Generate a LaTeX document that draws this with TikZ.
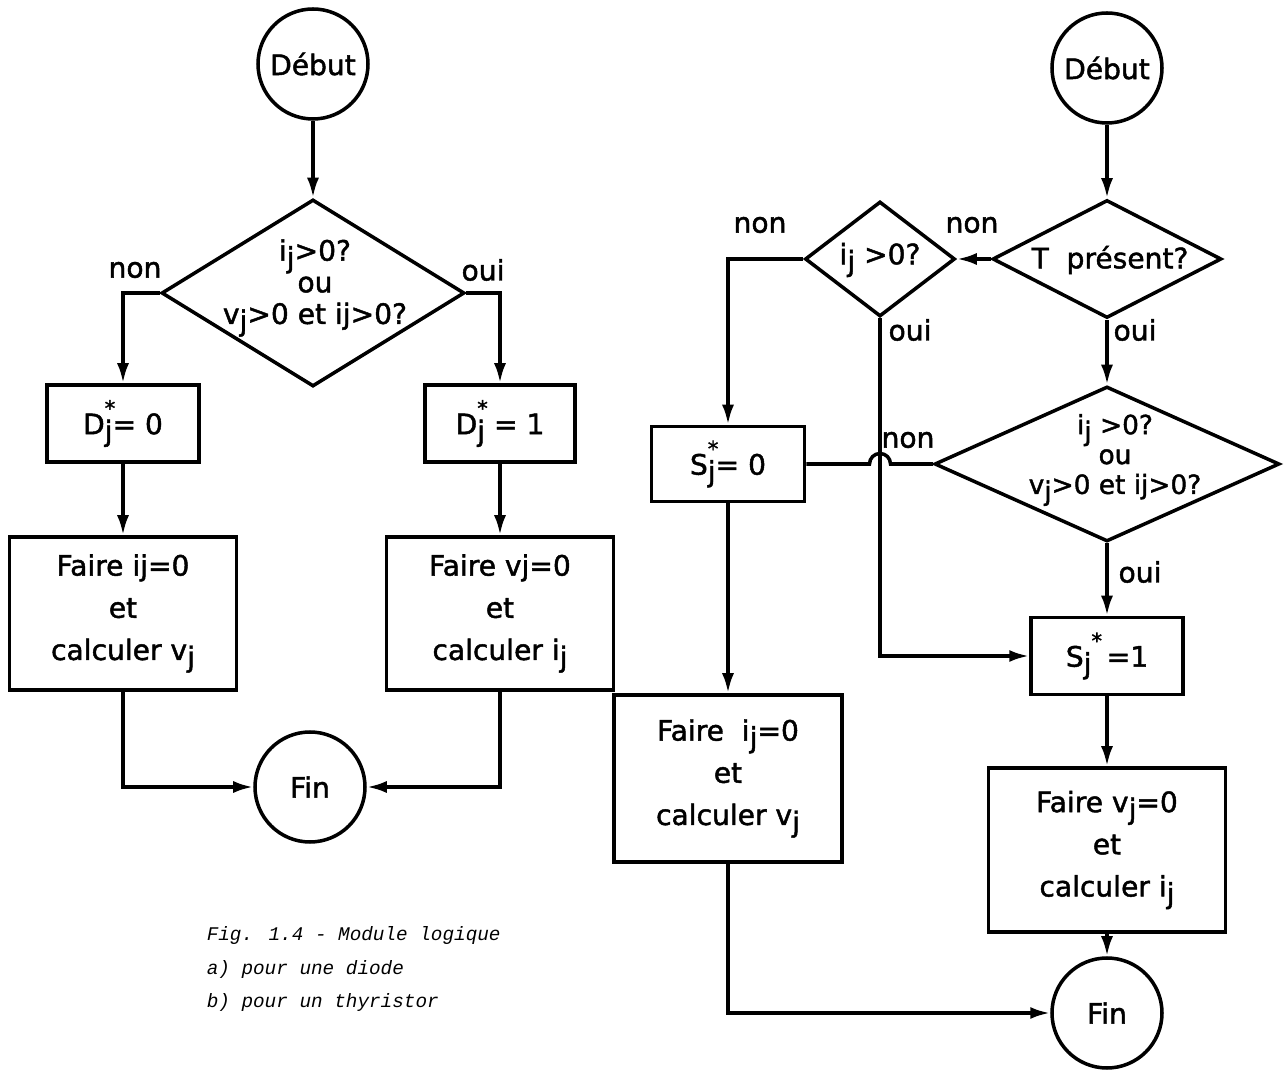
\documentclass[tikz,border=0pt]{standalone}
\usepackage{fontspec}
\setmainfont{DejaVu Sans}[BoldFont={DejaVu Sans}, BoldFeatures={FakeBold=1.6}]
\newfontfamily\legende{Liberation Mono}
\usetikzlibrary{shapes.geometric}
\usetikzlibrary{arrows.meta}
\usetikzlibrary{calc,positioning}

\newcommand{\dn}[1]{\raisebox{-0.45ex}{#1}}
\newcommand{\etoile}{\rlap{\raisebox{1.2ex}{\large *}}}

\begin{document}
\begin{tikzpicture}[line width=2pt,
    every node/.style={font=\bfseries\fontsize{16}{19}\selectfont},
    fl/.style={-{Latex[length=4mm,width=2.4mm]}},
    rond/.style={circle, draw, minimum size=2.2cm, inner sep=0pt},
    boite/.style={rectangle, draw, align=center, inner sep=0pt, font=\bfseries\fontsize{16}{24}\selectfont},
    losange/.style={diamond, draw, inner sep=0pt},
    question/.style={align=center, inner sep=0pt},
    reponse/.style={inner sep=1pt}]

    \useasboundingbox (0,0) rectangle (25.68,-21.4);

    % a) diode
    \node[rond] (debL) at (6.26,-1.28) {Début};
    \node[losange, minimum width=6.06cm, minimum height=3.74cm] (dL) at (6.26,-5.86) {};
    \node[question, font=\bfseries\fontsize{16}{18}\selectfont] (dLtxt) at (6.3,-5.76) {i\dn{j}>0?\\ ou\\ v\dn{j}>0 et ij>0?};
    \node[boite, minimum width=3.04cm, minimum height=1.54cm] (d0) at (2.46,-8.47) {D\etoile\dn{j}= 0};
    \node[boite, minimum width=3.0cm, minimum height=1.54cm] (d1) at (10.0,-8.47) {D\etoile\dn{j} = 1};
    \node[boite, minimum width=4.54cm, minimum height=3.06cm] (fL0) at (2.46,-12.27) {Faire ij=0\\ et\\ calculer v\dn{j}};
    \node[boite, minimum width=4.54cm, minimum height=3.06cm] (fL1) at (10.0,-12.27) {Faire vj=0\\ et\\ calculer i\dn{j}};
    \node[rond] (finL) at (6.2,-15.74) {Fin};

    \node[reponse] (nonL) at (2.7,-5.4) {non};
    \node[reponse] (ouiL) at (9.66,-5.4) {oui};

    \draw[fl] (debL) -- (dL);
    \draw[fl] (dL.west) -| (d0.north);
    \draw[fl] (dL.east) -| (d1.north);
    \draw[fl] (d0) -- (fL0);
    \draw[fl] (d1) -- (fL1);
    \draw[fl] (fL0.south) |- (finL.west);
    \draw[fl] (fL1.south) |- (finL.east);

    % b) thyristor
    \node[rond] (debR) at (22.14,-1.36) {Début};
    \node[losange, minimum width=4.58cm, minimum height=2.36cm] (tR) at (22.14,-5.18) {};
    \node[question] (tRtxt) at (22.2,-5.2) {T\ \ présent?};
    \node[losange, minimum width=3.0cm, minimum height=2.3cm] (iR) at (17.6,-5.18) {};
    \node[question] (iRtxt) at (17.6,-5.2) {i\dn{j} >0?};
    \node[boite, minimum width=3.06cm, minimum height=1.5cm] (s0) at (14.56,-9.28) {S\etoile\dn{j}= 0};
    \node[losange, minimum width=6.9cm, minimum height=3.1cm] (dR) at (22.14,-9.28) {};
    \node[question, font=\bfseries\fontsize{15}{17}\selectfont] (dRtxt) at (22.3,-9.2) {i\dn{j} >0?\\ ou\\ v\dn{j}>0 et ij>0?};
    \node[boite, minimum width=3.04cm, minimum height=1.54cm] (s1) at (22.14,-13.12) {S\dn{j}\raisebox{1.2ex}{\large *}\,=1};
    \node[boite, minimum width=4.56cm, minimum height=3.34cm] (fR0) at (14.56,-15.57) {Faire\ \ i\dn{j}=0\\ et\\ calculer v\dn{j}};
    \node[boite, minimum width=4.74cm, minimum height=3.28cm] (fR1) at (22.14,-17.0) {Faire v\dn{j}=0\\ et\\ calculer i\dn{j}};
    \node[rond] (finR) at (22.14,-20.26) {Fin};

    \node[reponse] (nonI) at (15.2,-4.5) {non};
    \node[reponse] (nonT) at (19.44,-4.5) {non};
    \node[reponse] (ouiI) at (18.2,-6.6) {oui};
    \node[reponse] (ouiT) at (22.7,-6.6) {oui};
    \node[reponse] (nonD) at (18.16,-8.8) {non};
    \node[reponse] (ouiD) at (22.8,-11.44) {oui};

    \coordinate (saut) at ($(iR.south |- s0.east)+(-0.21,0)$);

    \draw[fl] (debR) -- (tR);
    \draw[fl] (tR.west) -- (iR.east);
    \draw[fl] (iR.west) -| (s0.north);
    \draw[fl] (iR.south) |- (s1.west);
    \draw[fl] (tR.south) -- (dR.north);
    \draw (s0.east) -- (saut) arc (180:0:0.21) -- (dR.west);
    \draw[fl] (dR.south) -- (s1.north);
    \draw[fl] (s1) -- (fR1);
    \draw[fl] (fR1) -- (finR);
    \draw[fl] (s0) -- (fR0);
    \draw[fl] (fR0.south) |- (finR.west);

    % legende
    \node[anchor=north west, align=left, inner sep=0pt,
          font=\legende\itshape\fontsize{11}{19}\selectfont] (legende) at (4.1,-18.5)
          {Fig. 1.4 - Module logique\\ a) pour une diode\\ b) pour un thyristor};
\end{tikzpicture}
\end{document}
